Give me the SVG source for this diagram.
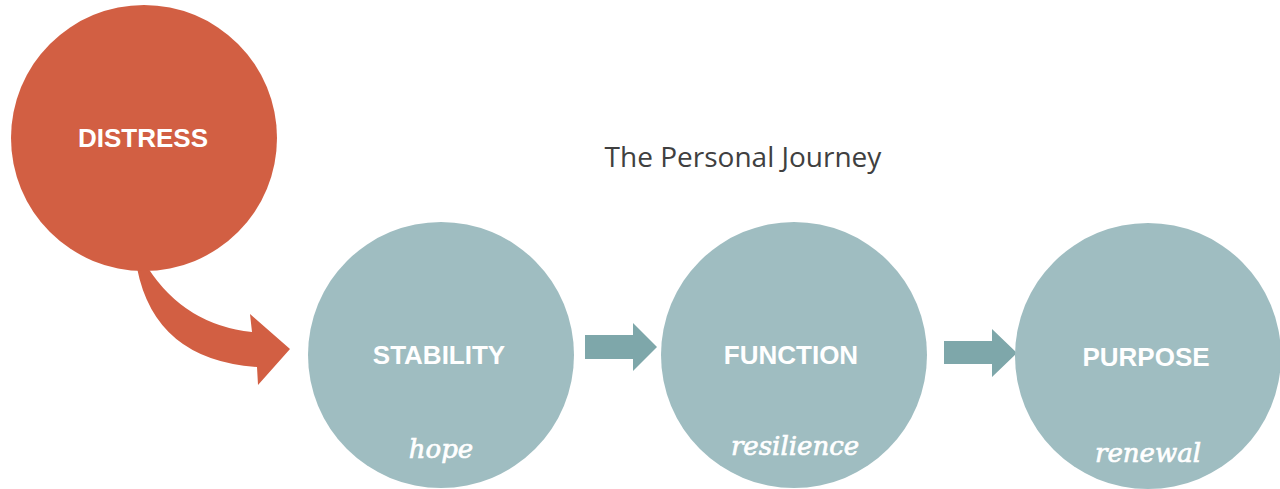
<svg xmlns="http://www.w3.org/2000/svg" width="1280" height="489" viewBox="0 0 1280 489">
<style>
.bg{fill:#ffffff}
.red{fill:#D25F43}
.teal{fill:#9FBDC1}
.arr{fill:#7EA7AA}
.lbl{font-family:"Liberation Sans",Arial,sans-serif;font-weight:bold;font-size:26px;fill:#ffffff;text-anchor:middle}
.sub{font-family:"DejaVu Serif",serif;font-style:italic;font-size:26px;fill:#ffffff;stroke:#ffffff;stroke-width:0.7;text-anchor:middle}
.title{font-family:"Open Sans",sans-serif;font-size:28px;fill:#404040;text-anchor:middle}
</style>
<rect class="bg" width="1280" height="489"/>
<text class="title" x="743" y="167">The Personal Journey</text>
<g id="connectors">
<path class="red" d="M137,268 Q155,360 257,367 L258,385 L290,349 L250,314 L252,332 Q185,325 148,268 Z"/>
<path class="arr" d="M585,335 L633,335 L633,323 L657,347 L633,371 L633,359 L585,359 Z"/>
<path class="arr" d="M944,341 L992,341 L992,329 L1017,353 L992,377 L992,364 L944,364 Z"/>
</g>
<g id="distress">
<circle class="red" cx="144" cy="138" r="133"/>
<text class="lbl" x="143" y="147">DISTRESS</text>
</g>
<g id="stability">
<circle class="teal" cx="441" cy="355" r="133"/>
<text class="lbl" x="439" y="364">STABILITY</text>
<text class="sub" x="441" y="458">hope</text>
</g>
<g id="function">
<circle class="teal" cx="794" cy="355" r="133"/>
<text class="lbl" x="791" y="364">FUNCTION</text>
<text class="sub" x="795" y="455">resilience</text>
</g>
<g id="purpose">
<circle class="teal" cx="1148" cy="356" r="133"/>
<text class="lbl" x="1146" y="366">PURPOSE</text>
<text class="sub" x="1148" y="462">renewal</text>
</g>
</svg>
